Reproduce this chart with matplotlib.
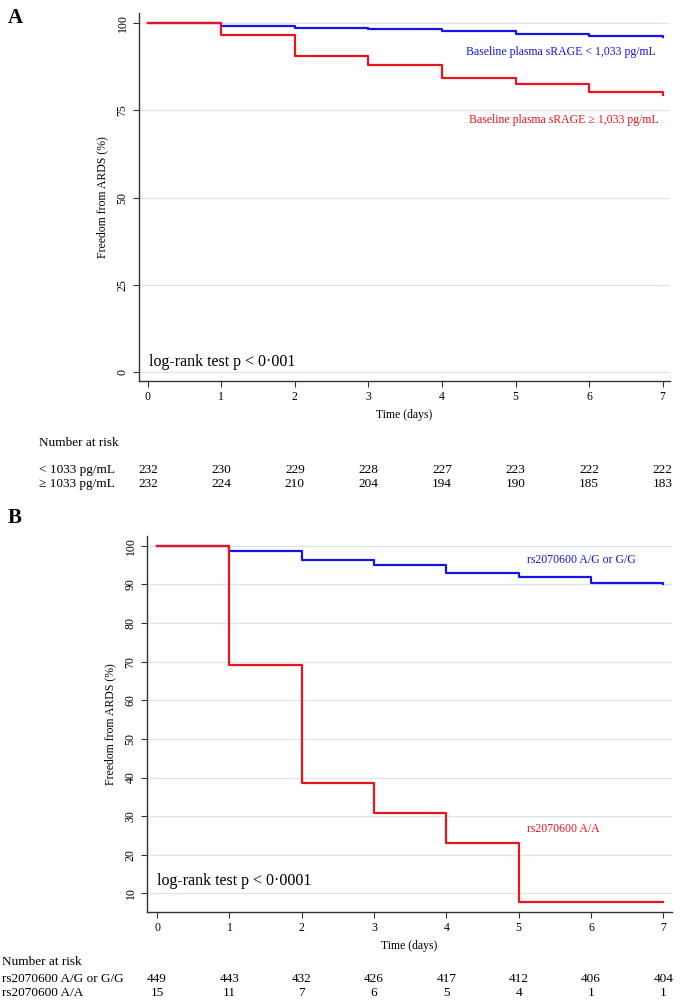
import matplotlib
matplotlib.use("Agg")
import matplotlib.pyplot as plt
from matplotlib.transforms import blended_transform_factory

plt.rcParams['font.family'] = ['Liberation Serif', 'DejaVu Serif']

BLUE = '#1414e6'
RED = '#e8141e'
GRID = '#dde5ea'

# data
days = [0, 1, 2, 3, 4, 5, 6, 7]

a_low = [100, 99.1, 98.7, 98.3, 97.7, 96.8, 96.3, 96.1]
a_high = [100, 96.6, 90.5, 87.9, 84.2, 82.5, 80.2, 79.4]
a_risk_labels = ['< 1033 pg/mL', '\u2265 1033 pg/mL']
a_risk_low = [232, 230, 229, 228, 227, 223, 222, 222]
a_risk_high = [232, 224, 210, 204, 194, 190, 185, 183]

b_ag = [100, 98.7, 96.2, 94.9, 92.9, 91.8, 90.4, 90.0]
b_aa = [100, 69.2, 38.5, 30.8, 23.1, 7.7, 7.7, 7.7]
b_risk_labels = ['rs2070600 A/G or G/G', 'rs2070600 A/A']
b_risk_ag = [449, 443, 432, 426, 417, 412, 406, 404]
b_risk_aa = [15, 11, 7, 6, 5, 4, 1, 1]

W, H = 685, 1002
fig = plt.figure(figsize=(W / 100, H / 100), dpi=100)


def fy(py):
    # pixel row -> figure fraction
    return 1 - py / H


def style_axes(ax, yticks):
    for s in ['top', 'right']:
        ax.spines[s].set_visible(False)
    for s in ['left', 'bottom']:
        ax.spines[s].set_color('#333333')
        ax.spines[s].set_linewidth(1.0)
    ax.set_xticks(days)
    ax.set_yticks(yticks)
    ax.tick_params(axis='both', labelsize=8.5, length=4, color='#333333', direction='out')
    for lab in ax.get_yticklabels():
        lab.set_rotation(90)
        lab.set_va('center')
    ax.yaxis.grid(True, color=GRID, linewidth=0.9)
    ax.set_axisbelow(True)
    ax.set_xlabel('Time (days)', fontsize=8.5, labelpad=4)
    ax.set_ylabel('Freedom from ARDS (%)', fontsize=8.5, labelpad=6)


def risk_table(ax, title_y, rows, label_x, label_fs=9.5):
    tr = blended_transform_factory(ax.transData, fig.transFigure)
    fig.text(label_x / W, fy(title_y), 'Number at risk', fontsize=label_fs, va='center')
    for lab, vals, py in rows:
        fig.text(label_x / W, fy(py), lab, fontsize=label_fs, va='center')
        for d, v in zip(days, vals):
            ax.text(d, fy(py), str(v), transform=tr, fontsize=label_fs,
                    ha='center', va='center')


# Panel A
axA = fig.add_axes([139 / W, fy(381), (670 - 139) / W, (381 - 13) / H])
axA.step(days, a_low, where='post', color=BLUE, lw=1.6)
axA.step(days, a_high, where='post', color=RED, lw=1.6)
axA.set_xlim(-0.12, 7.1)
axA.set_ylim(-2.6, 102.9)
style_axes(axA, [0, 25, 50, 75, 100])
axA.text(5.62, 91.7, 'Baseline plasma sRAGE < 1,033 pg/mL', color=BLUE,
         fontsize=8.5, ha='center', va='center')
axA.text(5.65, 72.2, 'Baseline plasma sRAGE \u2265 1,033 pg/mL', color=RED,
         fontsize=8.5, ha='center', va='center')
axA.text(0.02, 2.9, 'log-rank test p < 0\u00b7001', fontsize=11.5, ha='left', va='center')
fig.text(8 / W, fy(18), 'A', fontsize=15, fontweight='bold', va='center')
risk_table(axA, 443, [(a_risk_labels[0], a_risk_low, 470),
                      (a_risk_labels[1], a_risk_high, 484)], 39)

# Panel B
axB = fig.add_axes([147 / W, fy(912), (672 - 147) / W, (912 - 536) / H])
axB.step(days, b_ag, where='post', color=BLUE, lw=1.6)
axB.step(days, b_aa, where='post', color=RED, lw=1.6)
axB.set_xlim(-0.14, 7.12)
axB.set_ylim(5.2, 102.5)
style_axes(axB, [10, 20, 30, 40, 50, 60, 70, 80, 90, 100])
axB.text(5.86, 96.2, 'rs2070600 A/G or G/G', color=BLUE,
         fontsize=8.5, ha='center', va='center')
axB.text(5.62, 26.6, 'rs2070600 A/A', color=RED,
         fontsize=8.5, ha='center', va='center')
axB.text(0.0, 13.2, 'log-rank test p < 0\u00b70001', fontsize=11.5, ha='left', va='center')
fig.text(8 / W, fy(518), 'B', fontsize=15, fontweight='bold', va='center')
risk_table(axB, 962, [(b_risk_labels[0], b_risk_ag, 979),
                      (b_risk_labels[1], b_risk_aa, 993)], 2)

fig.savefig('out.png', dpi=100)
